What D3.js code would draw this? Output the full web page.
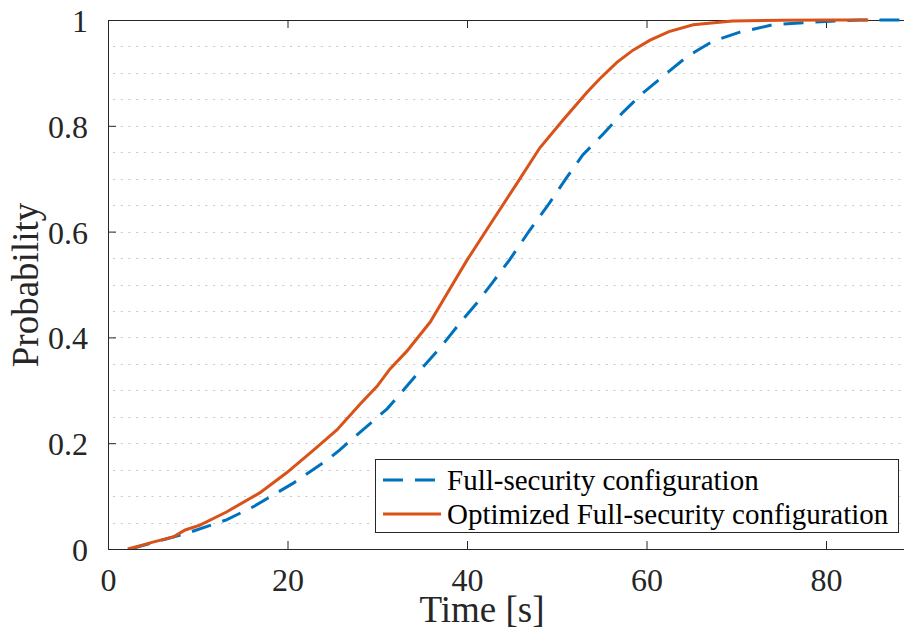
<!DOCTYPE html>
<head>
    <meta charset="utf-8">
    <title>CDF</title>
</head>
<script src="https://d3js.org/d3.v7.min.js"></script>

<div id="graph"></div>

<script>
    // data
    var fullTime = [2.5, 5.0, 8.8, 13.2, 16.2, 20.6, 24.4, 25.8, 28.1, 31.1, 32.9, 35.1, 37.0, 39.2, 41.1, 42.9, 44.8, 47.0, 48.9, 51.1, 52.9, 55.2, 57.4, 59.6, 62.3, 64.1, 65.6, 67.4, 70.4, 74.1, 78.6, 83.8, 90];
    var fullProb = [0, 0.012, 0.030, 0.055, 0.080, 0.124, 0.168, 0.187, 0.221, 0.265, 0.300, 0.344, 0.380, 0.427, 0.465, 0.505, 0.548, 0.603, 0.647, 0.702, 0.745, 0.785, 0.826, 0.862, 0.900, 0.925, 0.942, 0.960, 0.977, 0.991, 0.996, 1.0, 1.0];

    var optTime = [2.2, 3.9, 5.0, 7.3, 8.6, 10.25, 13.2, 16.9, 19.9, 22.9, 25.5, 28.1, 30.0, 31.4, 33.3, 35.9, 38.1, 40.0, 42.9, 45.6, 48.1, 50.7, 53.4, 54.8, 56.7, 58.5, 60.4, 62.5, 65.2, 69.6, 75, 80, 84.7];
    var optProb = [0, 0.0076, 0.013, 0.023, 0.036, 0.045, 0.070, 0.106, 0.144, 0.187, 0.225, 0.274, 0.308, 0.340, 0.374, 0.429, 0.492, 0.546, 0.622, 0.692, 0.758, 0.811, 0.864, 0.889, 0.920, 0.943, 0.962, 0.978, 0.991, 0.998, 0.9995, 1.0, 1.0];

    var xTicks = [0, 20, 40, 60, 80];
    var yTicks = [0, 0.2, 0.4, 0.6, 0.8, 1];
    var gridTicks = [0.05, 0.1, 0.15, 0.2, 0.25, 0.3, 0.35, 0.4, 0.45, 0.5, 0.55, 0.6, 0.65, 0.7, 0.75, 0.8, 0.85, 0.9, 0.95];

    var seriesNames = ["Full-security configuration", "Optimized Full-security configuration"];

    var W = 904, H = 630;
    var plotLeft = 108, plotTop = 20, plotBottom = 549, plotRight = 915.75;
    var font = "'Liberation Serif', 'Times New Roman', serif";
    var axisColor = "#262626";

    var svg = d3.select("#graph").append("svg")
        .attr("width", W)
        .attr("height", H)
        .style("display", "block")
        .style("font-family", font);

    var x = d3.scaleLinear().domain([0, 90]).range([plotLeft, plotRight]);
    var y = d3.scaleLinear().domain([0, 1]).range([plotBottom, plotTop]);

    svg.append("defs").append("clipPath").attr("id", "clip")
        .append("rect")
        .attr("x", plotLeft).attr("y", plotTop - 2)
        .attr("width", plotRight - plotLeft).attr("height", plotBottom - plotTop + 2);

    // dotted horizontal grid
    svg.append("g")
        .selectAll("line")
        .data(gridTicks)
        .enter().append("line")
        .attr("x1", plotLeft + 5)
        .attr("x2", W)
        .attr("y1", function(d) { return Math.round(y(d)) + 0.5; })
        .attr("y2", function(d) { return Math.round(y(d)) + 0.5; })
        .attr("stroke", "#c8c8c8")
        .attr("stroke-width", 1)
        .attr("stroke-dasharray", "2,5.7");

    // axes (box with inward ticks)
    function styleAxis(g) {
        g.select(".domain").attr("stroke", axisColor).attr("stroke-width", 1);
        g.selectAll(".tick line").attr("stroke", axisColor);
        g.selectAll(".tick text").attr("fill", "#262626").style("font-size", "32px").style("font-family", font);
    }

    svg.append("g")
        .attr("transform", "translate(0," + plotBottom + ")")
        .call(d3.axisBottom(x).tickValues(xTicks).tickSize(-8).tickSizeOuter(0).tickPadding(12).tickFormat(d3.format("d")))
        .call(styleAxis)
        .selectAll(".tick text").attr("dy", "0.95em");

    svg.append("g")
        .attr("transform", "translate(0," + plotTop + ")")
        .call(d3.axisTop(x).tickValues(xTicks).tickSize(-8).tickSizeOuter(0).tickFormat(""))
        .call(styleAxis);

    svg.append("g")
        .attr("transform", "translate(" + plotLeft + ",0)")
        .call(d3.axisLeft(y).tickValues(yTicks).tickSize(-8).tickSizeOuter(0).tickPadding(20)
            .tickFormat(function(d) { return d === 0 || d === 1 ? d : d3.format(".1f")(d); }))
        .call(styleAxis)
        .selectAll(".tick text").attr("dy", "0.36em");

    // lines
    var line = d3.line()
        .x(function(d) { return x(d[0]); })
        .y(function(d) { return y(d[1]); });

    var fullData = fullTime.map(function(t, i) { return [t, fullProb[i]]; });
    var optData = optTime.map(function(t, i) { return [t, optProb[i]]; });

    var plot = svg.append("g").attr("clip-path", "url(#clip)");

    plot.append("path")
        .datum(fullData)
        .attr("d", line)
        .attr("fill", "none")
        .attr("stroke", "#0072BD")
        .attr("stroke-width", 3)
        .attr("stroke-dasharray", "20,12");

    plot.append("path")
        .datum(optData)
        .attr("d", line)
        .attr("fill", "none")
        .attr("stroke", "#D95319")
        .attr("stroke-width", 3);

    // axis labels
    svg.append("text")
        .attr("x", 482)
        .attr("y", 622)
        .attr("text-anchor", "middle")
        .style("font-size", "37px")
        .attr("fill", "#262626")
        .text("Time [s]");

    svg.append("text")
        .attr("transform", "translate(38,285) rotate(-90)")
        .attr("text-anchor", "middle")
        .style("font-size", "37px")
        .attr("fill", "#262626")
        .text("Probability");

    // legend
    var legend = svg.append("g");
    legend.append("rect")
        .attr("x", 375.5).attr("y", 459.5)
        .attr("width", 523).attr("height", 73)
        .attr("fill", "white")
        .attr("stroke", axisColor)
        .attr("stroke-width", 1);

    var legendStyles = [
        {color: "#0072BD", dash: "20,12"},
        {color: "#D95319", dash: null}
    ];

    seriesNames.forEach(function(name, i) {
        var cy = 480 + i * 34;
        legend.append("line")
            .attr("x1", 383).attr("x2", 441)
            .attr("y1", cy).attr("y2", cy)
            .attr("stroke", legendStyles[i].color)
            .attr("stroke-width", 3)
            .attr("stroke-dasharray", legendStyles[i].dash);
        legend.append("text")
            .attr("x", 447)
            .attr("y", cy + 10)
            .style("font-size", "29px")
            .attr("fill", "black")
            .text(name);
    });
</script>

<style>
    html, body {
        margin: 0;
        padding: 0;
        background: white;
    }
</style>
